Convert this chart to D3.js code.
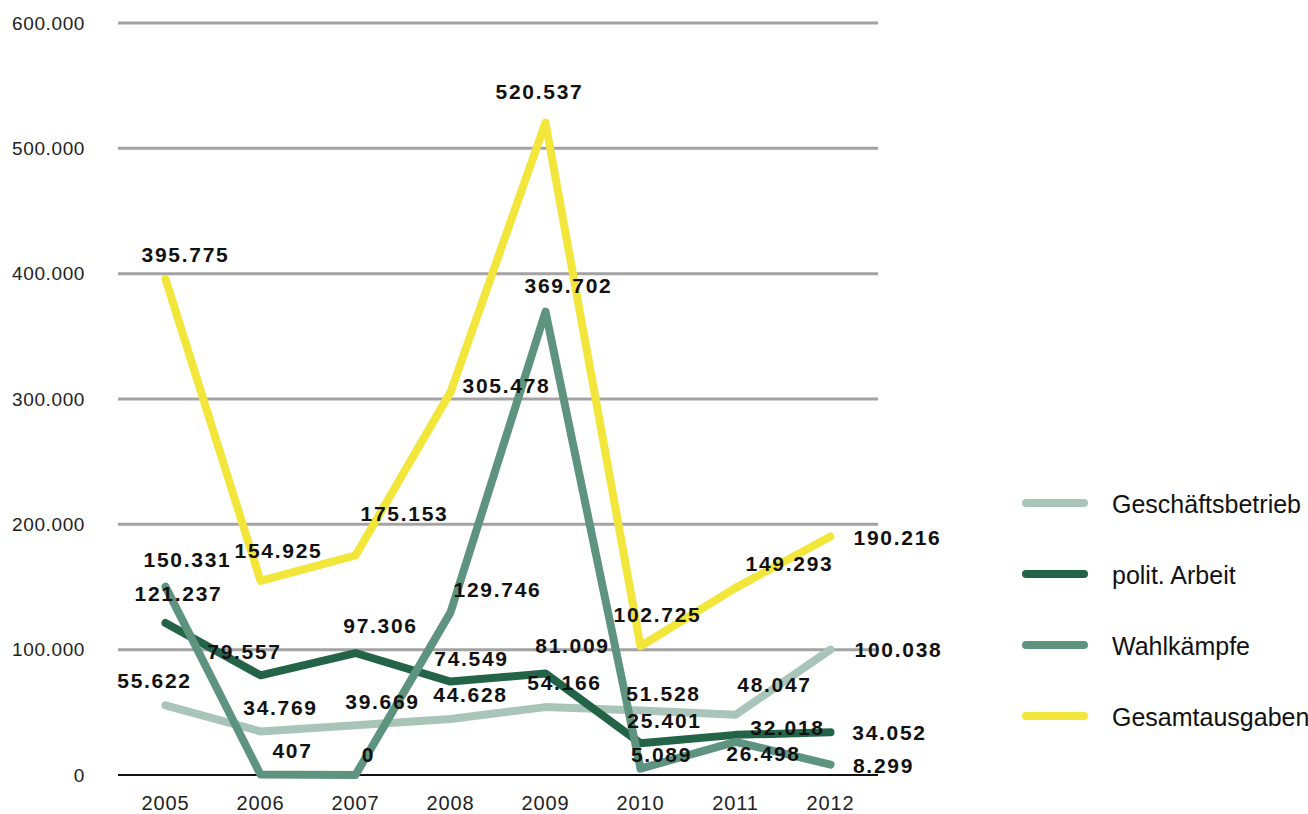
<!DOCTYPE html>
<html><head><meta charset="utf-8">
<script src="https://cdn.jsdelivr.net/npm/d3@7"></script>
<style>
html,body{margin:0;padding:0;background:#fff;}
svg{display:block;}
</style></head>
<body>
<svg id="chart" width="1308" height="814"></svg>
<script>
// ---- data ----
const years = ["2005","2006","2007","2008","2009","2010","2011","2012"];
const seriesNames = ["Geschäftsbetrieb","polit. Arbeit","Wahlkämpfe","Gesamtausgaben"];
const geschaeftsbetrieb = [55622, 34769, 39669, 44628, 54166, 51528, 48047, 100038];
const politArbeit = [121237, 79557, 97306, 74549, 81009, 25401, 32018, 34052];
const wahlkaempfe = [150331, 407, 0, 129746, 369702, 5089, 26498, 8299];
const gesamtausgaben = [395775, 154925, 175153, 305478, 520537, 102725, 149293, 190216];
const yTicks = [0, 100000, 200000, 300000, 400000, 500000, 600000];

// ---- layout / style (not data) ----
const colors = ["#a9c4b8", "#236449", "#5e9380", "#f3e63a"];
const labelOffsets = [
  [[-11,-17],[20,-16],[27,-16],[20,-17],[19,-17],[23,-9],[39,-23],[68,7]],
  [[13,-22],[-16,-16],[25,-20],[21,-16],[27,-20],[24,-15],[52,0],[59,8]],
  [[22,-20],[32,-16],[13,-13],[47,-15],[23,-19],[21,-7],[28,19],[53,8]],
  [[20,-17],[18,-23],[49,-34],[56,1],[-6,-24],[17,-24],[54,-17],[67,8]]
];

(function () {
const allSeries = [geschaeftsbetrieb, politArbeit, wahlkaempfe, gesamtausgaben];
const svg = d3.select("#chart");
const pLeft = 118, pRight = 878, pTop = 23, pBottom = 775;

const x = d3.scaleBand().domain(years).range([pLeft, pRight]);
const y = d3.scaleLinear().domain([0, 600000]).range([pBottom, pTop]);
const fmt = v => d3.format(",")(v).replace(/,/g, ".");

// gridlines
svg.append("g").selectAll("line").data(yTicks.filter(t => t > 0)).join("line")
  .attr("x1", pLeft).attr("x2", pRight)
  .attr("y1", d => y(d)).attr("y2", d => y(d))
  .attr("stroke", "#a3a3a3").attr("stroke-width", 3);
svg.append("line").attr("x1", pLeft).attr("x2", pRight)
  .attr("y1", y(0)).attr("y2", y(0)).attr("stroke", "#111").attr("stroke-width", 2);

// y axis labels
svg.append("g").selectAll("text").data(yTicks).join("text")
  .attr("x", 85).attr("y", d => y(d))
  .attr("text-anchor", "end").attr("dominant-baseline", "central")
  .style("font-family", "Liberation Sans, Arial, sans-serif")
  .style("font-size", "19px").style("letter-spacing", "0.6px").style("fill", "#222")
  .text(d => fmt(d));

// x axis labels
svg.append("g").selectAll("text").data(years).join("text")
  .attr("x", d => x(d) + x.bandwidth() / 2).attr("y", 810)
  .attr("text-anchor", "middle")
  .style("font-family", "Liberation Sans, Arial, sans-serif")
  .style("font-size", "20px").style("letter-spacing", "0.9px").style("fill", "#222")
  .text(d => d);

const cx = i => x(years[i]) + x.bandwidth() / 2;
const line = d3.line().x((d, i) => cx(i)).y(d => y(d));

// lines
allSeries.forEach((s, k) => {
  svg.append("path").datum(s).attr("d", line)
    .attr("fill", "none").attr("stroke", colors[k]).attr("stroke-width", 8)
    .attr("stroke-linejoin", "round").attr("stroke-linecap", "round");
});

// value labels
allSeries.forEach((s, k) => {
  svg.append("g").selectAll("text").data(s).join("text")
    .attr("x", (d, i) => cx(i) + labelOffsets[k][i][0])
    .attr("y", (d, i) => y(d) + labelOffsets[k][i][1])
    .attr("text-anchor", "middle")
    .style("font-family", "Liberation Sans, Arial, sans-serif")
    .style("font-weight", "bold").style("font-size", "21px")
    .style("letter-spacing", "1.7px").style("fill", "#111")
    .text(d => fmt(d));
});

// legend
const lg = svg.append("g");
seriesNames.forEach((n, k) => {
  const ly = 503 + k * 71;
  lg.append("line").attr("x1", 1026).attr("x2", 1084).attr("y1", ly).attr("y2", ly)
    .attr("stroke", colors[k]).attr("stroke-width", 8).attr("stroke-linecap", "round");
  lg.append("text").attr("x", 1112).attr("y", ly + 1).attr("dominant-baseline", "central")
    .style("font-family", "Liberation Sans, Arial, sans-serif")
    .style("font-size", "25px").style("fill", "#111")
    .text(n);
});
})();
</script>
</body></html>
